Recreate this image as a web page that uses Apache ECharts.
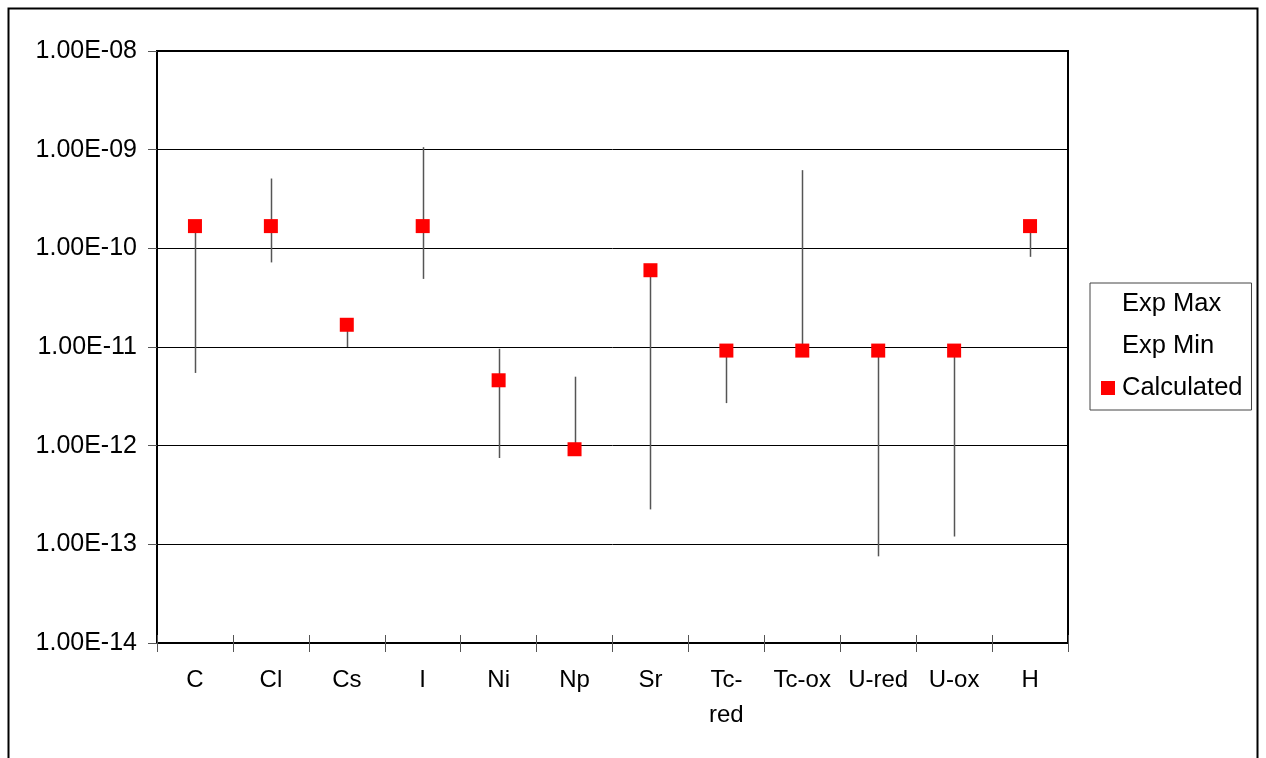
<!DOCTYPE html>
<html>
<head>
<meta charset="utf-8">
<script src="https://cdn.jsdelivr.net/npm/echarts@6/dist/echarts.min.js"></script>
<style>html,body{margin:0;padding:0;background:#fff}#c{width:1266px;height:758px}</style>
</head>
<body>
<div id="c"></div>
<script>
var categories = ['C','Cl','Cs','I','Ni','Np','Sr','Tc-red','Tc-ox','U-red','U-ox','H'];
var expMax = [1.68e-10, 5.1e-10, 1.68e-11, 1.06e-9, 9.6e-12, 5.0e-12, 6.0e-11, 9.2e-12, 6.2e-10, 9.2e-12, 9.2e-12, 1.68e-10];
var expMin = [5.46e-12, 7.2e-11, 1.0e-11, 4.9e-11, 7.5e-13, 9.2e-13, 2.26e-13, 2.7e-12, 9.2e-12, 7.56e-14, 1.2e-13, 8.2e-11];
var calculated = [1.68e-10, 1.68e-10, 1.68e-11, 1.68e-10, 4.6e-12, 9.2e-13, 6.0e-11, 9.2e-12, 9.2e-12, 9.2e-12, 9.2e-12, 1.68e-10];
var yMin = 1e-14, yMax = 1e-8;

function sci(v){
  var e = Math.round(Math.log10(v));
  var m = v / Math.pow(10, e);
  var s = e < 0 ? '-' : '+';
  var a = Math.abs(e);
  return m.toFixed(2) + 'E' + s + (a < 10 ? '0' + a : '' + a);
}

var font = '"Liberation Sans", Arial, sans-serif';
var chart = echarts.init(document.getElementById('c'), null, {renderer:'canvas'});
var hiLo = categories.map(function(c, i){ return [i, expMax[i], expMin[i]]; });

chart.setOption({
  animation: false,
  backgroundColor: '#fff',
  graphic: [{
    type: 'rect', silent: true, z: 100,
    shape: {x: 8.5, y: 8.5, width: 1249, height: 800},
    style: {fill: 'none', stroke: '#000', lineWidth: 2}
  }],
  grid: {left: 157, top: 51, right: 198, bottom: 115, show: true, borderColor: '#000', borderWidth: 2, backgroundColor: 'transparent'},
  legend: {
    orient: 'vertical', left: 1090, top: 283,
    padding: [8, 9, 9, 11], itemGap: 16,
    itemWidth: 14, itemHeight: 14,
    borderColor: '#444', borderWidth: 1,
    textStyle: {fontFamily: font, fontSize: 25.5, color: '#000', padding: [0, 0, 0, 2]},
    data: [
      {name: 'Exp Max'},
      {name: 'Exp Min'},
      {name: 'Calculated', icon: 'rect'}
    ]
  },
  xAxis: [{
    type: 'category', data: categories, boundaryGap: true,
    axisLine: {lineStyle: {color: '#000', width: 2}},
    axisTick: {show: true, interval: 0, length: 9, lineStyle: {color: '#555', width: 1}},
    axisLabel: {interval: 0, margin: 20, fontFamily: font, fontSize: 24, color: '#000', lineHeight: 35,
      formatter: function(v){ return v === 'Tc-red' ? 'Tc-\nred' : v; }},
    splitLine: {show: false}
  }, {
    type: 'category', data: categories, boundaryGap: true, position: 'bottom',
    axisLine: {show: false},
    axisTick: {show: true, inside: true, interval: 0, length: 8, lineStyle: {color: '#555', width: 1}},
    axisLabel: {show: false},
    splitLine: {show: false}
  }],
  yAxis: {
    type: 'log', logBase: 10, min: yMin, max: yMax, splitNumber: 6,
    axisLine: {show: true, lineStyle: {color: '#000', width: 2}},
    axisTick: {show: true, length: 9, lineStyle: {color: '#555', width: 1}},
    axisLabel: {margin: 20, fontFamily: font, fontSize: 25, color: '#000', formatter: sci},
    splitLine: {show: true, lineStyle: {color: '#000', width: 1}},
    minorTick: {show: false}
  },
  series: [{
    name: 'HiLo', type: 'custom', silent: true, z: 2,
    encode: {x: 0, y: [1, 2]},
    data: hiLo,
    renderItem: function(params, api){
      var x = api.value(0);
      var p1 = api.coord([x, api.value(1)]);
      var p2 = api.coord([x, api.value(2)]);
      return {type: 'line', shape: {x1: Math.round(p1[0]) + 0.5, y1: p1[1], x2: Math.round(p2[0]) + 0.5, y2: p2[1]},
        style: {stroke: '#555', lineWidth: 1.5}};
    }
  }, {
    name: 'Exp Max', type: 'line', data: expMax, symbol: 'none', silent: true,
    itemStyle: {color: 'rgba(0,0,0,0)'}, lineStyle: {color: 'rgba(0,0,0,0)', width: 0}
  }, {
    name: 'Exp Min', type: 'line', data: expMin, symbol: 'none', silent: true,
    itemStyle: {color: 'rgba(0,0,0,0)'}, lineStyle: {color: 'rgba(0,0,0,0)', width: 0}
  }, {
    name: 'Calculated', type: 'scatter', data: calculated, symbol: 'rect', symbolSize: 14, z: 5,
    itemStyle: {color: '#ff0000', opacity: 1}
  }]
});
</script>
</body>
</html>
